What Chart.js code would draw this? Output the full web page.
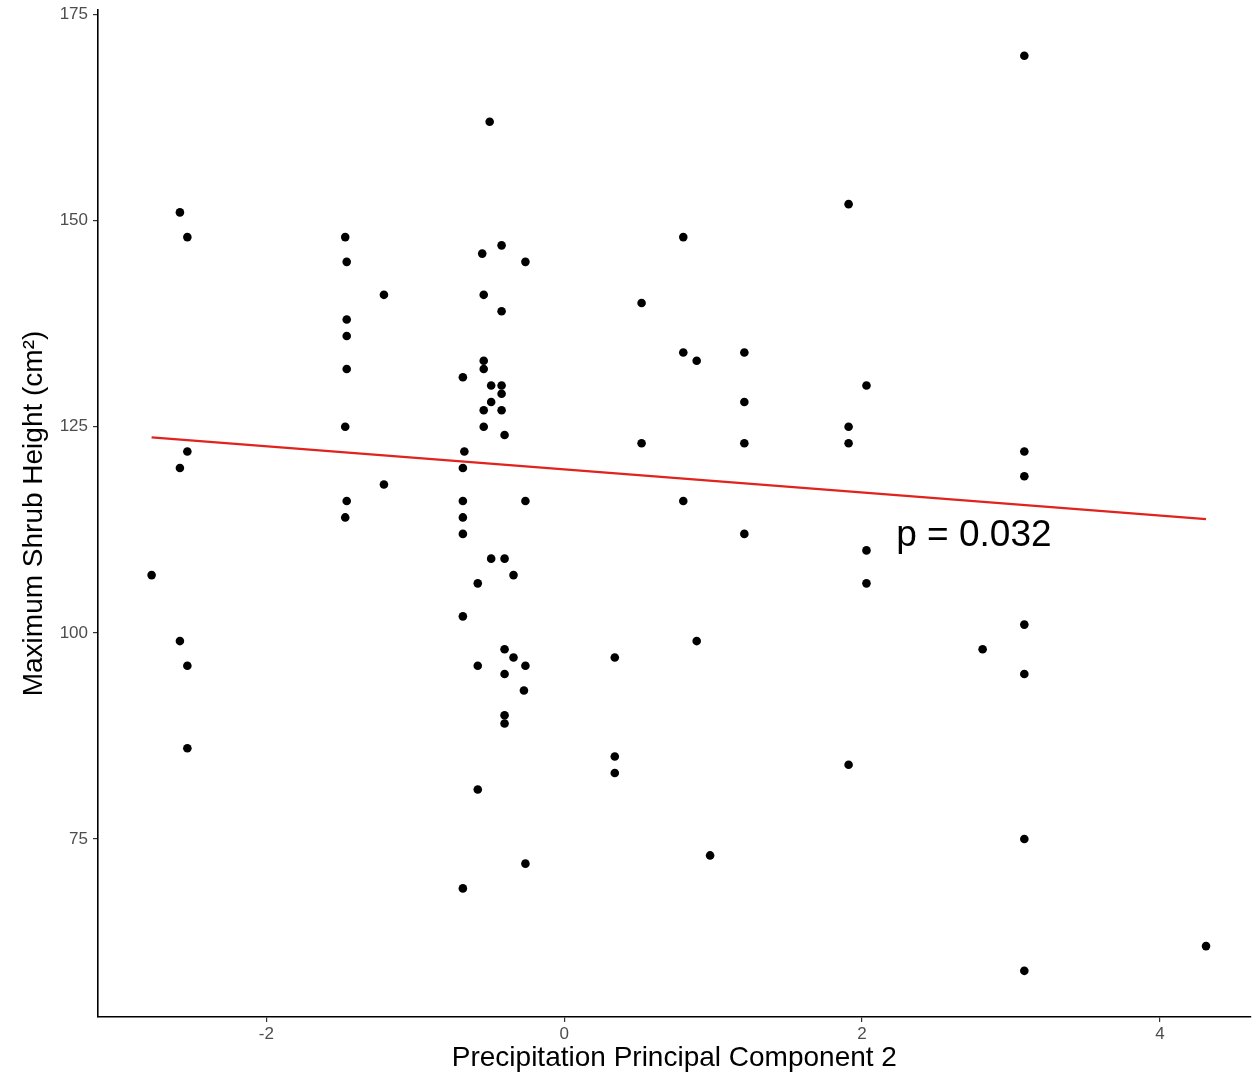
<!DOCTYPE html>
<html>
<head>
<meta charset="utf-8">
<script src="https://cdn.jsdelivr.net/npm/chart.js@4.4.1/dist/chart.umd.min.js"></script>
<style>
  body { margin: 0; background: #fff; }
  #wrap { width: 1255px; height: 1081px; }
</style>
</head>
<body>
<div id="wrap"><canvas id="scatter-chart" width="1255" height="1081"></canvas></div>
<script>
// data
const pcValues = [
  -2.77, -2.58, -2.53, -2.58, -2.53, -2.58, -2.53, -2.53,
  -1.47, -1.46, -1.46, -1.46, -1.46, -1.47, -1.46, -1.47,
  -1.21, -1.21,
  -0.68, -0.67, -0.68, -0.68, -0.68, -0.68, -0.68, -0.68,
  -0.50, -0.55, -0.54, -0.54, -0.54, -0.49, -0.49, -0.54, -0.54,
  -0.42, -0.42, -0.42, -0.42, -0.42, -0.40, -0.26, -0.26,
  -0.49, -0.40, -0.34, -0.58, -0.58, -0.58,
  -0.40, -0.34, -0.40, -0.26, -0.27, -0.40, -0.40, -0.26,
  0.34, 0.34, 0.34, 0.52, 0.52,
  0.80, 0.80, 0.89, 0.80, 0.89, 0.98,
  1.21, 1.21, 1.21, 1.21,
  1.91, 1.91, 1.91, 1.91, 2.03, 2.03, 2.03,
  2.81, 3.09, 3.09, 3.09, 3.09, 3.09, 3.09, 3.09, 4.31
];
const heightValues = [
  107, 151, 148, 120, 122, 99, 96, 86,
  148, 145, 138, 136, 132, 125, 116, 114,
  141, 118,
  131, 122, 120, 116, 114, 112, 102, 69,
  162, 146, 141, 133, 132, 130, 128, 127, 125,
  147, 139, 130, 129, 127, 124, 145, 116,
  109, 109, 107, 106, 96, 81,
  98, 97, 95, 96, 93, 90, 89, 72,
  97, 85, 83, 140, 123,
  148, 134, 133, 116, 99, 73,
  134, 128, 123, 112,
  152, 125, 123, 84, 130, 110, 106,
  98, 170, 122, 119, 101, 95, 75, 59, 62
];
// fitted line end points
const fitX = [-2.77, 4.31];
const fitY = [123.7, 113.8];

const xTicks = [-2, 0, 2, 4];
const yTicks = [75, 100, 125, 150, 175];
const pLabel = "p = 0.032";
const pLabelAt = { x: 2.23, y: 111.8 };

const FONT = "'Liberation Sans', Arial, Helvetica, sans-serif";

// p value text, placed at data coords
const pValuePlugin = {
  id: "pValue",
  afterDatasetsDraw(chart) {
    const c = chart.ctx;
    const px = chart.scales.x.getPixelForValue(pLabelAt.x);
    const py = chart.scales.y.getPixelForValue(pLabelAt.y);
    c.save();
    c.font = "37px " + FONT;
    c.fillStyle = "#000";
    c.textAlign = "left";
    c.textBaseline = "middle";
    c.fillText(pLabel, px, py);
    c.restore();
  },
};

var ctx = document.getElementById("scatter-chart");

new Chart(ctx, {
  type: "scatter",
  data: {
    datasets: [
      {
        type: "line",
        data: fitX.map((x, i) => ({ x: x, y: fitY[i] })),
        borderColor: "#e0231d",
        borderWidth: 2.2,
        pointRadius: 0,
        fill: false,
      },
      {
        data: pcValues.map((x, i) => ({ x: x, y: heightValues[i] })),
        backgroundColor: "#000",
        borderWidth: 0,
        pointRadius: 4.3,
        pointHoverRadius: 4.3,
      },
    ],
  },
  options: {
    responsive: false,
    animation: false,
    events: [],
    layout: {
      padding: { top: 10, right: 0, left: 0, bottom: 0 },
    },
    plugins: {
      legend: { display: false },
      tooltip: { enabled: false },
    },
    scales: {
      x: {
        type: "linear",
        min: -3.13,
        max: 4.61,
        afterBuildTicks: (scale) => {
          scale.ticks = xTicks.map((v) => ({ value: v }));
        },
        afterFit: (scale) => {
          scale.height = 64;
          scale.paddingLeft = 0;
          scale.paddingRight = 0;
        },
        border: { color: "#000", width: 1.6 },
        grid: {
          drawOnChartArea: false,
          drawTicks: true,
          tickLength: 5,
          color: "#333",
          lineWidth: 1.2,
        },
        ticks: {
          color: "#4d4d4d",
          padding: 2,
          maxRotation: 0,
          font: { family: FONT, size: 17 },
        },
        title: {
          display: true,
          text: "Precipitation Principal Component 2",
          color: "#000",
          padding: { top: 0, bottom: 6 },
          font: { family: FONT, size: 28 },
        },
      },
      y: {
        type: "linear",
        min: 53.4,
        max: 175.55,
        afterBuildTicks: (scale) => {
          scale.ticks = yTicks.map((v) => ({ value: v }));
        },
        afterFit: (scale) => {
          scale.width = 98;
          scale.paddingTop = 0;
          scale.paddingBottom = 0;
        },
        border: { color: "#000", width: 1.6 },
        grid: {
          drawOnChartArea: false,
          drawTicks: true,
          tickLength: 5,
          color: "#333",
          lineWidth: 1.2,
        },
        ticks: {
          color: "#4d4d4d",
          padding: 5,
          font: { family: FONT, size: 17 },
        },
        title: {
          display: true,
          text: "Maximum Shrub Height (cm\u00B2)",
          color: "#000",
          padding: { top: 17, bottom: 0 },
          font: { family: FONT, size: 28 },
        },
      },
    },
  },
  plugins: [pValuePlugin],
});
</script>
</body>
</html>
